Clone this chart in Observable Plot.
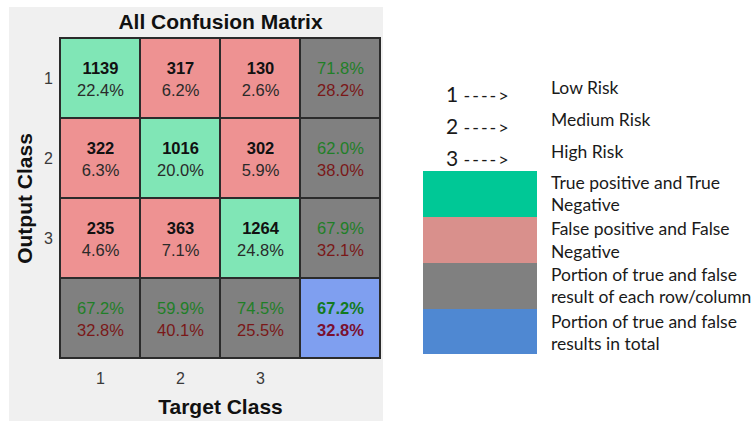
<!DOCTYPE html>
<html>
<head>
<meta charset="utf-8">
<script src="https://cdn.jsdelivr.net/npm/d3@7"></script>
<script src="https://cdn.jsdelivr.net/npm/@observablehq/plot@0.6"></script>
<style>
  html, body { margin: 0; padding: 0; background: #ffffff; }
  #wrap { position: relative; width: 754px; height: 421px; overflow: hidden; background: #ffffff; }
  #panel { position: absolute; left: 9px; top: 7px; width: 374px; height: 414px; background: #f0f0f0; }
  #chart { position: absolute; left: 0; top: 0; }
  #chart svg { background: transparent !important; }
  .lg { position: absolute; font-family: Lato, "Open Sans", sans-serif; color: #1a1a1a; white-space: nowrap; line-height: 1; }
  .lgt { font-size: 17.5px; transform: translateY(-50%); }
  .num { font-size: 21px; transform: translateY(-50%); }
  .arr { font-size: 18px; letter-spacing: 2px; }
  .sw { position: absolute; left: 423px; width: 114px; }
</style>
</head>
<body>
<div id="wrap">
  <div id="panel"></div>
  <div id="chart"></div>
</div>
<script>
// ---- Data ----
const classes = ["1", "2", "3"];
const counts = [
  [1139, 317, 130],
  [322, 1016, 302],
  [235, 363, 1264]
];
const percents = [
  [22.4, 6.2, 2.6],
  [6.3, 20.0, 5.9],
  [4.6, 7.1, 24.8]
];
const rowCorrect = [71.8, 62.0, 67.9];
const rowWrong = [28.2, 38.0, 32.1];
const colCorrect = [67.2, 59.9, 74.5];
const colWrong = [32.8, 40.1, 25.5];
const totalCorrect = 67.2;
const totalWrong = 32.8;
const legendClasses = ["Low Risk", "Medium Risk", "High Risk"];
const legendItems = [
  ["True positive and True", "Negative"],
  ["False positive and False", "Negative"],
  ["Portion of true and false", "result of each row/column"],
  ["Portion of true and false", "results in total"]
];

// ---- Colors ----
const C_TRUE = "#80e6b6", C_FALSE = "#ee9292", C_SUM = "#808080", C_TOT = "#7f9ff0";
const T_GREEN = "#1f7f27", T_RED = "#7a1818";
const LG_COLORS = ["#00c896", "#d9908c", "#808080", "#4f88d2"];

// ---- Build table ----
const S = "S";
const domain = [...classes, S];
const cells = [];
for (let r = 0; r < 3; r++) {
  for (let c = 0; c < 3; c++) {
    const diag = r === c;
    cells.push({x: classes[c], y: classes[r], fill: diag ? C_TRUE : C_FALSE,
      top: String(counts[r][c]), bottom: percents[r][c].toFixed(1) + "%",
      topFill: "#111", bottomFill: "#2a2a2a", kind: "main"});
  }
  cells.push({x: S, y: classes[r], fill: C_SUM,
    top: rowCorrect[r].toFixed(1) + "%", bottom: rowWrong[r].toFixed(1) + "%",
    topFill: T_GREEN, bottomFill: T_RED, kind: "sum"});
}
for (let c = 0; c < 3; c++) {
  cells.push({x: classes[c], y: S, fill: C_SUM,
    top: colCorrect[c].toFixed(1) + "%", bottom: colWrong[c].toFixed(1) + "%",
    topFill: T_GREEN, bottomFill: T_RED, kind: "sum"});
}
cells.push({x: S, y: S, fill: C_TOT,
  top: totalCorrect.toFixed(1) + "%", bottom: totalWrong.toFixed(1) + "%",
  topFill: "#137a20", bottomFill: "#7a1030", kind: "total"});

const font = "'Liberation Sans', Arial, sans-serif";
const boldTop = cells.filter(d => d.kind !== "sum");
const normTop = cells.filter(d => d.kind === "sum");
const boldBottom = cells.filter(d => d.kind === "total");
const normBottom = cells.filter(d => d.kind !== "total");

const plot = Plot.plot({
  width: 754,
  height: 421,
  marginLeft: 60,
  marginRight: 374,
  marginTop: 38,
  marginBottom: 63,
  style: {fontFamily: font, background: "transparent"},
  x: {type: "band", domain, padding: 0, axis: null},
  y: {type: "band", domain, padding: 0, axis: null},
  marks: [
    Plot.cell(cells, {x: "x", y: "y", fill: d => d.fill, stroke: "#2b2b2b", strokeWidth: 2}),
    Plot.text(boldTop, {x: "x", y: "y", text: "top", dy: -10, fill: d => d.topFill, fontWeight: "bold", fontSize: 16.5}),
    Plot.text(normTop, {x: "x", y: "y", text: "top", dy: -10, fill: d => d.topFill, fontSize: 16.5}),
    Plot.text(boldBottom, {x: "x", y: "y", text: "bottom", dy: 12, fill: d => d.bottomFill, fontWeight: "bold", fontSize: 16.5}),
    Plot.text(normBottom, {x: "x", y: "y", text: "bottom", dy: 12, fill: d => d.bottomFill, fontSize: 16.5}),
    Plot.text(classes, {x: d => d, frameAnchor: "bottom", lineAnchor: "middle", dy: 20, fontSize: 16, fill: "#3a3a3a"}),
    Plot.text(classes, {y: d => d, frameAnchor: "left", lineAnchor: "middle", textAnchor: "middle", dx: -12, fontSize: 16, fill: "#3a3a3a"}),
    Plot.text(["All Confusion Matrix"], {frameAnchor: "top", lineAnchor: "middle", dy: -16, fontSize: 21, fontWeight: "bold", fill: "#111"}),
    Plot.text(["Target Class"], {frameAnchor: "bottom", lineAnchor: "middle", dy: 49, fontSize: 21, fontWeight: "bold", fill: "#111"}),
    Plot.text(["Output Class"], {frameAnchor: "left", lineAnchor: "middle", textAnchor: "middle", dx: -35, rotate: -90, fontSize: 21, fontWeight: "bold", fill: "#111"})
  ]
});
document.getElementById("chart").appendChild(plot);

// ---- Legend (HTML) ----
const wrap = document.getElementById("wrap");
const numY = [93, 125, 157];
const txtY = [88, 120, 152];
legendClasses.forEach((name, i) => {
  const n = document.createElement("div");
  n.className = "lg num";
  n.style.left = "446px"; n.style.top = numY[i] + "px";
  n.innerHTML = classes[i] + ' <span class="arr">----&gt;</span>';
  wrap.appendChild(n);
  const t = document.createElement("div");
  t.className = "lg lgt";
  t.style.left = "551px"; t.style.top = txtY[i] + "px";
  t.textContent = name;
  wrap.appendChild(t);
});
const boxTop = [171, 217, 263, 309];
const lineY = [[183, 205], [229, 252], [275, 297], [322, 344]];
legendItems.forEach((lines, i) => {
  const b = document.createElement("div");
  b.className = "sw";
  b.style.top = boxTop[i] + "px";
  b.style.height = (i === 3 ? 45 : 46) + "px";
  b.style.background = LG_COLORS[i];
  wrap.appendChild(b);
  lines.forEach((s, j) => {
    const t = document.createElement("div");
    t.className = "lg lgt";
    t.style.left = "551px"; t.style.top = lineY[i][j] + "px";
    t.textContent = s;
    wrap.appendChild(t);
  });
});
</script>
</body>
</html>
